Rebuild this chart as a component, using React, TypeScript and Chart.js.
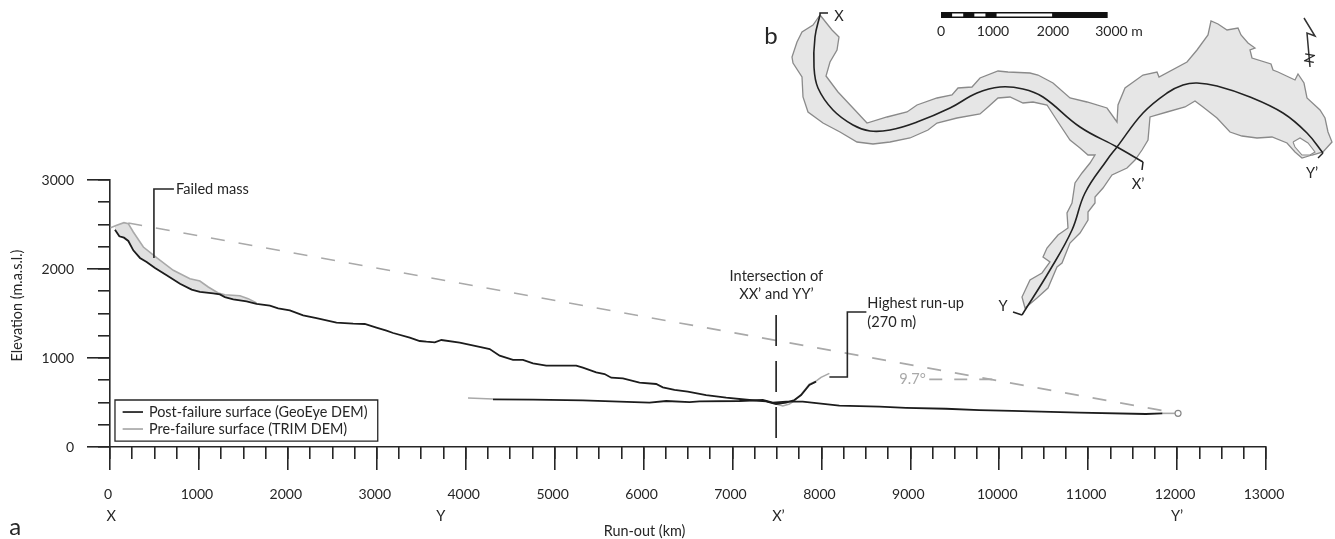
import React, { useEffect, useRef } from "react";
import { Chart, registerables } from "chart.js";

Chart.register(...registerables);

type P = [number, number];

// ---- Panel a: elevation profiles (run-out, elevation) ----
const postFailureXX: P[] = [[56,2442],[105,2367],[157,2352],[206,2315],[262,2210],[337,2124],[412,2079],[506,2011],[637,1929],[787,1835],[918,1768],[1011,1742],[1161,1727],[1236,1715],[1292,1685],[1386,1659],[1536,1637],[1648,1607],[1798,1588],[1891,1558],[2022,1536],[2172,1479],[2322,1449],[2547,1397],[2734,1386],[2865,1382],[2996,1341],[3109,1307],[3184,1281],[3371,1228],[3483,1191],[3558,1183],[3652,1176],[3727,1202],[3933,1172],[4195,1116],[4270,1101],[4382,1026],[4532,978],[4644,978],[4757,940],[4906,914],[5094,914],[5243,914],[5318,891],[5468,839],[5562,820],[5637,779],[5768,772],[5955,723],[6142,708],[6217,671],[6348,641],[6498,622],[6704,584],[6929,554],[7191,528],[7378,513],[7491,483],[7603,498],[7697,528],[7772,584],[7865,697],[7940,734]];
const preFailureFailedMass: P[] = [[7,2464],[75,2491],[157,2521],[206,2509],[262,2416],[375,2247],[524,2127],[712,1985],[899,1891],[1011,1865],[1105,1798],[1217,1730],[1292,1711],[1461,1700],[1554,1667],[1648,1618]];
const preFailureRunUp: P[] = [[7378,513],[7491,483],[7566,461],[7641,483],[7697,520],[7772,590],[7865,705],[7940,740],[7996,782],[8090,827]];
const preFailureYY: P[] = [[4026,551],[4307,540]];
const postFailureYY: P[] = [[4307,536],[4757,532],[5318,524],[5730,509],[6067,498],[6255,517],[6517,504],[6629,512],[7079,517],[7341,528],[7453,498],[7603,509],[7790,509],[8202,464],[8652,453],[8951,440],[9401,430],[9775,415],[10150,405],[10899,386],[11648,371],[11835,378]];
const preFailureYYEnd: P[] = [[11835,378],[12011,378]];
const reachOrigin: P[] = [[12011,378]];
const reachLine: P[] = [[206,2517],[12011,378]];
const angleLine: P[] = [[9213,760],[9944,760]];
const intersectionLine: P[] = [[7491,1483],[7491,101]];
const failedMassLeader: P[] = [[494,2124],[494,2899],[719,2899]];
const runUpLeader: P[] = [[8090,787],[8292,787],[8292,1517],[8506,1517]];

const xMajorStep = 1000;
const xMinorStep = 250;
const yMajorStep = 1000;
const yMinorStep = 250;

// ---- Panel b: map, in 18 m grid cells east/north of the scale bar's zero ----
const CELL_M = 18;
const mapOutline: P[] = [[-121,0],[-109,-15],[-102,-22],[-104,-35],[-111,-47],[-115,-61],[-103,-77],[-88,-93],[-74,-108],[-54,-102],[-34,-97],[-24,-90],[-4,-83],[11,-80],[17,-73],[31,-72],[39,-63],[57,-56],[67,-57],[89,-58],[97,-60],[112,-68],[129,-83],[146,-87],[166,-93],[176,-107],[177,-90],[184,-73],[202,-60],[216,-57],[218,-62],[246,-47],[256,-35],[267,-20],[270,-6],[277,-9],[286,-15],[297,-13],[300,-20],[307,-28],[314,-33],[309,-35],[311,-43],[330,-49],[332,-55],[337,-57],[354,-65],[357,-59],[363,-68],[366,-83],[379,-95],[384,-103],[387,-117],[391,-127],[382,-137],[371,-140],[361,-143],[354,-137],[346,-128],[331,-122],[316,-123],[301,-121],[289,-117],[276,-103],[262,-92],[254,-86],[244,-92],[226,-97],[209,-102],[207,-125],[201,-135],[194,-145],[186,-153],[171,-160],[162,-173],[154,-182],[154,-188],[147,-197],[147,-205],[139,-218],[129,-228],[121,-248],[116,-252],[107,-273],[96,-283],[84,-293],[81,-282],[89,-265],[101,-258],[109,-247],[102,-242],[106,-233],[117,-220],[127,-213],[126,-198],[131,-188],[134,-168],[141,-158],[149,-148],[154,-140],[147,-140],[139,-133],[129,-125],[117,-107],[106,-90],[92,-87],[82,-88],[69,-82],[57,-83],[47,-92],[39,-99],[16,-103],[-4,-108],[-13,-115],[-31,-123],[-51,-127],[-68,-129],[-84,-127],[-101,-117],[-118,-108],[-133,-97],[-138,-82],[-139,-62],[-148,-48],[-149,-42],[-144,-27],[-139,-17],[-128,-10],[-121,0]];
const mapIsland: P[] = [[352,-127],[359,-123],[367,-128],[374,-137],[369,-140],[361,-140],[354,-132],[352,-127]];
const sectionXX: P[] = [[-121,0],[-126,-22],[-127,-52],[-123,-73],[-108,-95],[-88,-110],[-71,-116],[-51,-115],[-24,-107],[9,-93],[36,-78],[59,-72],[82,-74],[102,-82],[139,-112],[176,-132],[202,-147]];
const sectionXXStartTick: P[] = [[-113,2],[-121,2],[-121,0]];
const sectionXXEndTick: P[] = [[202,-147],[201,-155]];
// listed from Y' to Y: eastern points lie past the map scale's maximum, and a sorted series would be cut there
const sectionYY: P[] = [[382,-138],[366,-118],[342,-98],[309,-82],[276,-71],[256,-68],[242,-70],[226,-78],[202,-98],[176,-132],[166,-145],[144,-178],[131,-215],[109,-255],[81,-300]];
const sectionYYStartTick: P[] = [[72,-297],[81,-300]];
const sectionYYEndTick: P[] = [[382,-138],[377,-143]];
const northArrow: P[] = [[363,-3],[374,-21],[366,-18],[369,-52]];
const scaleBarMetres = [0, 3000];
const scaleBarWhiteMetres: P[] = [[200,400],[600,800],[1000,2000]];
const scaleBarY = 0;

// ---- Text ----
const INK = "#262626";
const GREY = "#a9a9a9";
const FONT = "Lato";
type Label = { text: string; x: number; y: number; align?: CanvasTextAlign; color?: string; size?: number; rot?: number };
const profileLabels: Label[] = [
  { text: "Failed mass", x: 742, y: 2899, align: "left" },
  { text: "Intersection of", x: 7494, y: 1921 },
  { text: "XX\u2019 and YY\u2019", x: 7494, y: 1719 },
  { text: "Highest run-up", x: 8517, y: 1618, align: "left" },
  { text: "(270 m)", x: 8517, y: 1404, align: "left" },
  { text: "9.7\u00b0", x: 8876, y: 760, align: "left", color: GREY },
  { text: "X", x: 15, y: -775 },
  { text: "Y", x: 3720, y: -775 },
  { text: "X\u2019", x: 7517, y: -775 },
  { text: "Y\u2019", x: 12000, y: -775 },
  { text: "a", x: -1067, y: -899, size: 24 },
  { text: "Run-out (km)", x: 6011, y: -944, size: 14.4 },
  { text: "Elevation (m.a.s.l.)", x: -1045, y: 1590, size: 14.4, rot: -90 },
];
const mapLabels: Label[] = [
  { text: "b", x: -170, y: -21, size: 24 },
  { text: "X", x: -102, y: -1 },
  { text: "X\u2019", x: 197, y: -169 },
  { text: "Y\u2019", x: 371, y: -158 },
  { text: "Y", x: 62, y: -291 },
  { text: "N", x: 368, y: -43, rot: 100, size: 14 },
  { text: "0", x: 0, y: -16, size: 14 },
  { text: "1000", x: 52, y: -16, size: 14 },
  { text: "2000", x: 112, y: -16, size: 14 },
  { text: "3000 m", x: 178, y: -16, size: 14 },
];
const legendEntries = [
  { text: "Post-failure surface (GeoEye DEM)", y: 393, color: "#1c1c1c" },
  { text: "Pre-failure surface (TRIM DEM)", y: 202, color: GREY },
];
const legendBox = { x0: 56, x1: 3011, y0: 528, y1: 67 };
const legendSample = { x0: 142, x1: 371, textX: 438 };

const pts = (a: P[]) => a.map(([x, y]) => ({ x, y }));
const mapPts = (a: P[]) => a.map(([x, y]) => ({ x: x * CELL_M, y: y * CELL_M }));

const profile = (data: P[], color: string, width = 1.5, extra: object = {}) => ({
  data: pts(data), borderColor: color, borderWidth: width, showLine: true, pointRadius: 0, fill: false, clip: false, ...extra,
});
const onMap = (data: { x: number; y: number }[], color: string, width: number, extra: object = {}) => ({
  data, borderColor: color, borderWidth: width, showLine: true, pointRadius: 0, fill: false, clip: false,
  xAxisID: "mapX", yAxisID: "mapY", borderCapStyle: "butt", ...extra,
});

const annotate = {
  id: "annotate",
  // the map lies mostly outside the chart area, where the built-in filler would clip it
  beforeDatasetsDraw(chart: any) {
    const { ctx } = chart;
    const polys = chart.data.datasets
      .map((d: any, i: number) => ({ d, i }))
      .filter(({ d }: any) => d.mapFill)
      .sort((a: any, b: any) => a.d.mapFill.layer - b.d.mapFill.layer);
    polys.forEach(({ d, i }: any) => {
      const elements = chart.getDatasetMeta(i).data;
      ctx.save();
      ctx.fillStyle = d.mapFill.color;
      ctx.beginPath();
      elements.forEach((p: any, k: number) => (k ? ctx.lineTo(p.x, p.y) : ctx.moveTo(p.x, p.y)));
      ctx.closePath();
      ctx.fill();
      ctx.restore();
    });
  },
  afterDatasetsDraw(chart: any) {
    const { ctx, scales } = chart;
    const put = (l: Label, sx: any, sy: any, mult = 1) => {
      ctx.save();
      ctx.fillStyle = l.color ?? INK;
      ctx.font = `${l.size ?? 14.6}px ${FONT}`;
      ctx.textAlign = l.align ?? "center";
      ctx.textBaseline = "middle";
      ctx.translate(sx.getPixelForValue(l.x * mult), sy.getPixelForValue(l.y * mult));
      if (l.rot) ctx.rotate((l.rot * Math.PI) / 180);
      ctx.fillText(l.text, 0, 0);
      ctx.restore();
    };
    profileLabels.forEach((l) => put(l, scales.x, scales.y));
    mapLabels.forEach((l) => put(l, scales.mapX, scales.mapY, CELL_M));

    const X = (v: number) => scales.x.getPixelForValue(v);
    const Y = (v: number) => scales.y.getPixelForValue(v);
    ctx.save();
    ctx.strokeStyle = INK;
    ctx.lineWidth = 1.3;
    ctx.fillStyle = "#fff";
    ctx.beginPath();
    ctx.rect(X(legendBox.x0), Y(legendBox.y0), X(legendBox.x1) - X(legendBox.x0), Y(legendBox.y1) - Y(legendBox.y0));
    ctx.fill();
    ctx.stroke();
    legendEntries.forEach((e) => {
      ctx.strokeStyle = e.color;
      ctx.lineWidth = 1.7;
      ctx.beginPath();
      ctx.moveTo(X(legendSample.x0), Y(e.y));
      ctx.lineTo(X(legendSample.x1), Y(e.y));
      ctx.stroke();
      ctx.fillStyle = INK;
      ctx.font = `14.4px ${FONT}`;
      ctx.textAlign = "left";
      ctx.textBaseline = "middle";
      ctx.fillText(e.text, X(legendSample.textX), Y(e.y));
    });
    ctx.restore();
  },
};

export default function App() {
  const ref = useRef<HTMLCanvasElement>(null);
  useEffect(() => {
    document.body.style.margin = "0";
    document.body.style.background = "#fff";
    const axisFont = { family: FONT, size: 14 };
    const tickStyle = { drawOnChartArea: false, color: INK, lineWidth: 1.6 };
    const borderStyle = { color: INK, width: 1.6 };
    const postIndex = 1; // dataset index of postFailureXX, the lower edge of the failed mass
    const chart = new Chart(ref.current!, {
      type: "scatter",
      plugins: [annotate],
      data: {
        // Chart.js paints the first dataset last, so the topmost marks come first
        datasets: [
          { data: pts(reachOrigin), pointRadius: 3, pointBackgroundColor: "#fff", pointBorderColor: "#888", pointBorderWidth: 1.2, showLine: false, clip: false },
          profile(postFailureXX, "#1c1c1c", 1.8),
          profile(postFailureYY, "#1c1c1c", 1.8),
          profile(intersectionLine, "#1c1c1c", 1.6, { borderDash: [31, 15] }),
          profile(failedMassLeader, INK, 1.6),
          profile(runUpLeader, INK, 1.6),
          profile(preFailureFailedMass, GREY, 1.6, { fill: { target: postIndex, above: "#e0e0e0", below: "rgba(0,0,0,0)" } }),
          profile(preFailureRunUp, GREY, 1.6),
          profile(preFailureYY, GREY, 1.6),
          profile(preFailureYYEnd, GREY, 1.6),
          profile(reachLine, GREY, 1.6, { borderDash: [14, 14] }),
          profile(angleLine, GREY, 1.6, { borderDash: [13, 12] }),
          // map
          ...scaleBarWhiteMetres.map((seg) => onMap(seg.map((x) => ({ x, y: scaleBarY })), "#fff", 3)),
          onMap(scaleBarMetres.map((x) => ({ x, y: scaleBarY })), "#111", 6),
          onMap(mapPts(northArrow), "#333", 1.5),
          onMap(mapPts(sectionXX), "#222", 1.6, { tension: 0.4 }),
          onMap(mapPts(sectionYY), "#222", 1.6, { tension: 0.4 }),
          onMap(mapPts(sectionXXStartTick), "#222", 1.5),
          onMap(mapPts(sectionXXEndTick), "#222", 1.5),
          onMap(mapPts(sectionYYStartTick), "#222", 1.5),
          onMap(mapPts(sectionYYEndTick), "#222", 1.5),
          onMap(mapPts(mapIsland), "#8a8a8a", 1.1, { mapFill: { color: "#ffffff", layer: 2 } }),
          onMap(mapPts(mapOutline), "#8a8a8a", 1.3, { mapFill: { color: "#e6e6e6", layer: 1 } }),
        ] as any,
      },
      options: {
        animation: false,
        responsive: false,
        events: [],
        layout: { padding: { left: 0, right: 69, top: 180, bottom: 0 } },
        plugins: { legend: { display: false }, tooltip: { enabled: false } },
        scales: {
          x: {
            type: "linear", position: "bottom", weight: 1, min: 0, max: 13000,
            ticks: { stepSize: xMajorStep, color: INK, font: axisFont, padding: 16, maxRotation: 0, autoSkip: false, labelOffset: -2, callback: (v: any) => String(v) },
            grid: { ...tickStyle, tickLength: 23 }, border: borderStyle,
            afterFit: (s: any) => { s.height = 92; },
          },
          xMinor: {
            type: "linear", axis: "x", position: "bottom", weight: 0, min: 0, max: 13000,
            ticks: { stepSize: xMinorStep, display: false, autoSkip: false },
            grid: { ...tickStyle, tickLength: 12 }, border: { display: false },
            afterFit: (s: any) => { s.height = 0; },
          },
          y: {
            type: "linear", position: "left", weight: 1, min: 0, max: 3000,
            ticks: { stepSize: yMajorStep, color: INK, font: axisFont, padding: 13, autoSkip: false, callback: (v: any) => String(v) },
            grid: { ...tickStyle, tickLength: 23 }, border: borderStyle,
            afterFit: (s: any) => { s.width = 110; },
          },
          yMinor: {
            type: "linear", axis: "y", position: "left", weight: 0, min: 0, max: 3000,
            ticks: { stepSize: yMinorStep, display: false, autoSkip: false },
            grid: { ...tickStyle, tickLength: 12 }, border: { display: false },
            afterFit: (s: any) => { s.width = 0; },
          },
          mapX: { type: "linear", axis: "x", display: false, min: -831 * CELL_M, max: 325 * CELL_M },
          mapY: { type: "linear", axis: "y", display: false, min: -432 * CELL_M, max: -165 * CELL_M },
        } as any,
      },
    });
    return () => chart.destroy();
  }, []);
  return <canvas ref={ref} width={1335} height={539} style={{ display: "block" }} />;
}
